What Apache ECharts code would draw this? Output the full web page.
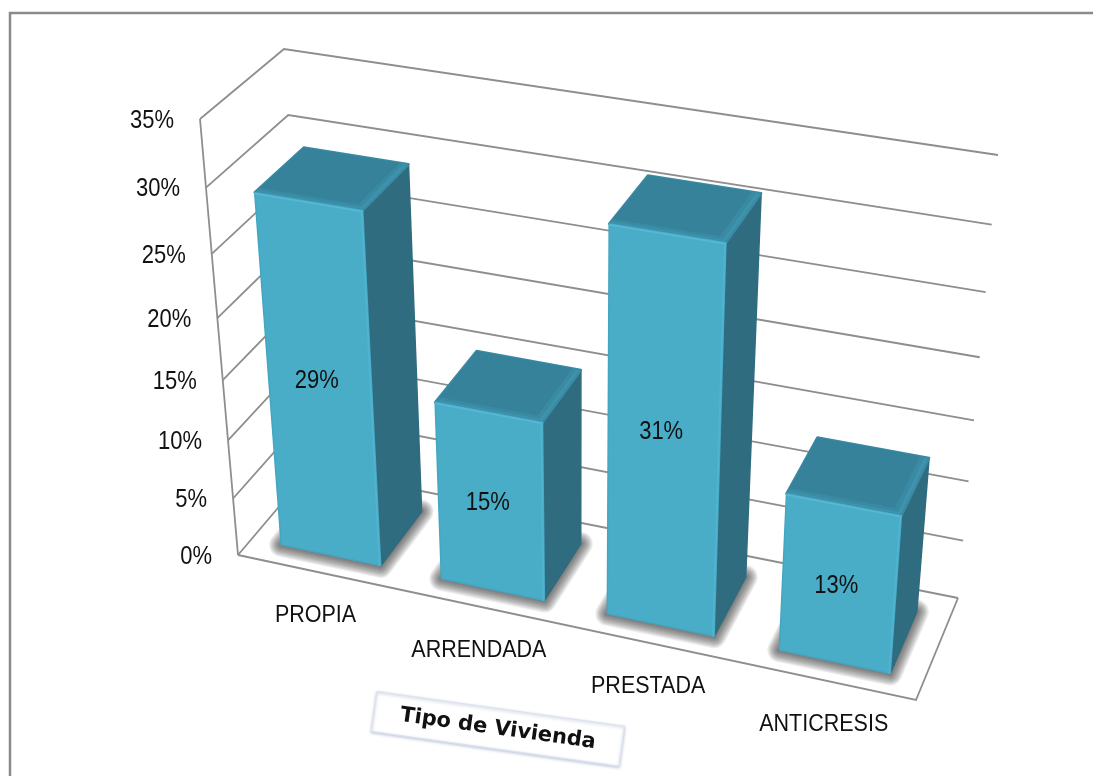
<!DOCTYPE html>
<html>
<head>
<meta charset="utf-8">
<style>html,body{margin:0;padding:0;background:#fff}#c{width:1093px;height:776px}</style>
<script src="https://cdn.jsdelivr.net/npm/echarts@6/dist/echarts.min.js"></script>
</head>
<body>
<div id="c"></div>
<script>
// ---- data ----
var categories = ['PROPIA', 'ARRENDADA', 'PRESTADA', 'ANTICRESIS'];
var values = [29, 15, 31, 13];
var dataLabels = ['29%', '15%', '31%', '13%'];
var tickValues = [0, 5, 10, 15, 20, 25, 30, 35];
var tickLabels = ['0%', '5%', '10%', '15%', '20%', '25%', '30%', '35%'];
var axisTitle = 'Tipo de Vivienda';

// ---- picture-plane box of the 3D chart (pixel corners of the perspective view) ----
var A = [238, 555], B = [916, 700], C = [311, 469], D = [958, 598];
var E = [200, 119], F = [951, 238], G = [284, 49], H = [998, 155];
var KX = 1.075, KZ = 1.12;
var W_FRONT = 0.19, W_BACK = 0.80, BAR_FRAC = 0.625;

var GRID = {left: 100, top: 100, width: 800, height: 400};

function persp(s, k) { return s / (s + k * (1 - s)); }
function lerp(p, q, t) { return [p[0] + (q[0] - p[0]) * t, p[1] + (q[1] - p[1]) * t]; }
// s: 0..1 along categories, w: 0..1 depth, h: 0..1 height
function proj(s, w, h) {
  var u = persp(s, KX), z = persp(h, KZ);
  var bottom = lerp(lerp(A, B, u), lerp(C, D, u), w);
  var top = lerp(lerp(E, F, u), lerp(G, H, u), w);
  return lerp(bottom, top, z);
}
// pixel position from the hidden cartesian axes -> normalised -> projected
function fromApi(api, cat, val, w) {
  var p = api.coord([cat, val]);
  return proj((p[0] - GRID.left) / GRID.width, w, 1 - (p[1] - GRID.top) / GRID.height);
}

var LINE = {stroke: '#8e8e8e', lineWidth: 1.8, fill: null};
var TEXT = 'Liberation Sans, Arial, sans-serif';

function txt(x, y, s, align, size) {
  return {type: 'text', x: x, y: y + 2.5, scaleY: 1.14, silent: true,
    style: {text: s, fill: '#111', font: (size || 21.5) + 'px ' + TEXT, textAlign: align, textVerticalAlign: 'middle'}};
}
function poly(points, style) { return {type: 'polygon', shape: {points: points}, style: style}; }

function renderWall(params, api) {
  var val = api.value(0), isFloor = val === 0;
  var p0 = api.coord([-0.5, val]), hh = 1 - (p0[1] - GRID.top) / GRID.height;
  var kids = [{type: 'polyline', shape: {points: [proj(0, 0, hh), proj(0, 1, hh), proj(1, 1, hh)]}, style: LINE}];
  if (isFloor) {
    kids.push({type: 'polyline', shape: {points: [proj(0, 0, 0), proj(1, 0, 0), proj(1, 1, 0)]}, style: LINE});
    kids.push({type: 'line', shape: {x1: proj(0, 0, 0)[0], y1: proj(0, 0, 0)[1], x2: proj(0, 0, 1)[0], y2: proj(0, 0, 1)[1]}, style: LINE});
  }
  var a = proj(0, 0, hh);
  kids.push(txt(a[0] - 26, a[1] - 0.5, tickLabels[params.dataIndex], 'right', 22));
  return {type: 'group', children: kids};
}

function renderBar(params, api) {
  var i = api.value(0), v = api.value(1), half = BAR_FRAC / 2;
  var l = i - half, r = i + half, wf = W_FRONT, wb = W_BACK;
  var P = function (c, val, w) { return fromApi(api, c, val, w); };
  var fbl = P(l, 0, wf), fbr = P(r, 0, wf), ftl = P(l, v, wf), ftr = P(r, v, wf);
  var bbr = P(r, 0, wb), btl = P(l, v, wb), btr = P(r, v, wb), bbl = P(l, 0, wb);
  var e = 0.025, ed = 0.03;
  var kids = [];
  // soft floor shadow: widening translucent round-joined strokes around the footprint
  for (var k = 10; k >= 1; k--) {
    kids.push(poly([fbl, fbr, bbr, bbl], {fill: 'rgba(40,40,40,0.09)', stroke: 'rgba(40,40,40,0.09)', lineWidth: k * 2.4, lineJoin: 'round'}));
  }
  // side
  kids.push(poly([ftr, fbr, bbr, btr], {fill: '#2f6c7f', stroke: '#2f6c7f', lineWidth: 1.5, lineJoin: 'round'}));
  // top, with a lighter bevel on the front and right edges
  kids.push(poly([ftl, ftr, btr, btl], {fill: '#3e93ad', stroke: '#3b8ba5', lineWidth: 2.5, lineJoin: 'round'}));
  kids.push(poly([P(l, v, wf + ed), P(r - e, v, wf + ed), P(r - e, v, wb), P(l, v, wb)], {fill: '#3a8aa4'}));
  kids.push(poly([P(l, v, wf + 2 * ed), P(r - 2 * e, v, wf + 2 * ed), P(r - 2 * e, v, wb), P(l, v, wb)], {fill: '#37829b'}));
  // front
  kids.push(poly([ftl, ftr, fbr, fbl], {fill: '#4aadc8', stroke: '#45a6c1', lineWidth: 1.5, lineJoin: 'round'}));
  kids.push({type: 'line', shape: {x1: ftl[0], y1: ftl[1] + 1, x2: ftr[0], y2: ftr[1] + 1}, style: {stroke: '#55b8d3', lineWidth: 2}});
  kids.push({type: 'line', shape: {x1: ftr[0] - 1, y1: ftr[1], x2: fbr[0] - 1, y2: fbr[1]}, style: {stroke: '#50b3cf', lineWidth: 2}});
  // data label in the middle of the front face
  kids.push(txt((ftl[0] + ftr[0] + fbl[0] + fbr[0]) / 4 - 3, (ftl[1] + ftr[1] + fbl[1] + fbr[1]) / 4, dataLabels[params.dataIndex], 'center', 22));
  // category label below the floor edge
  var f = P(i, 0, 0);
  kids.push(txt(f[0] - 2, f[1] + 41, categories[params.dataIndex], 'center'));
  return {type: 'group', children: kids};
}

var chart = echarts.init(document.getElementById('c'), null, {renderer: 'canvas'});
chart.setOption({
  animation: false,
  backgroundColor: '#fff',
  grid: {left: GRID.left, top: GRID.top, width: GRID.width, height: GRID.height},
  xAxis: {type: 'value', min: -0.5, max: 3.5, show: false},
  yAxis: {type: 'value', min: 0, max: 35, interval: 5, show: false},
  series: [
    {type: 'custom', name: 'grid', coordinateSystem: 'cartesian2d', z: 1, clip: false, silent: true,
     encode: {x: 1, y: 0}, data: tickValues.map(function (t) { return [t, -0.5]; }), renderItem: renderWall},
    {type: 'custom', name: 'Tipo de Vivienda', coordinateSystem: 'cartesian2d', z: 2, clip: false, silent: true,
     encode: {x: 0, y: 1}, data: values.map(function (v, i) { return [i, v]; }), renderItem: renderBar}
  ],
  graphic: [
    {type: 'polyline', z: 0, silent: true, shape: {points: [[10, 776], [10, 13], [1093, 13]]}, style: {stroke: '#8a8a8a', lineWidth: 2.5, fill: null}},
    {type: 'group', x: 498, y: 729, rotation: -8 * Math.PI / 180, z: 5, silent: true, children: [
      {type: 'rect', shape: {x: -125, y: -20, width: 250, height: 40},
       style: {fill: '#fff', stroke: '#dde2ec', lineWidth: 1.2, shadowBlur: 3, shadowColor: 'rgba(150,165,195,0.6)', shadowOffsetY: 1}},
      {type: 'text', x: 0, y: 0, style: {text: axisTitle, fill: '#111', font: 'bold 21px "DejaVu Sans", Verdana, sans-serif', textAlign: 'center', textVerticalAlign: 'middle'}}
    ]}
  ]
});
</script>
</body>
</html>
